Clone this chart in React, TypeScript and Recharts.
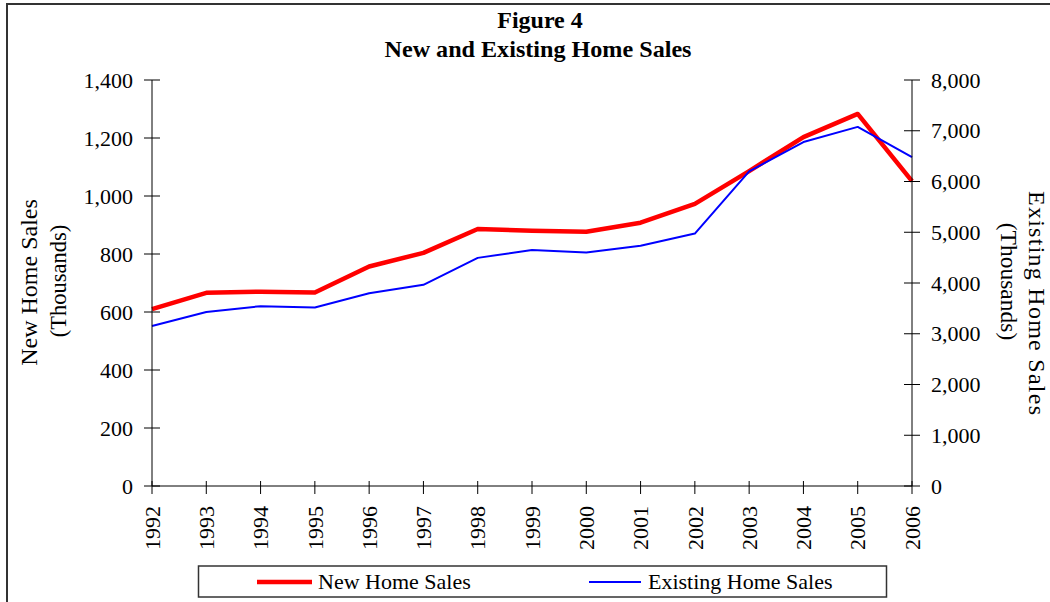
import { LineChart, Line, XAxis, YAxis } from "recharts"

const years = ["1992", "1993", "1994", "1995", "1996", "1997", "1998", "1999", "2000", "2001", "2002", "2003", "2004", "2005", "2006"]
const newHomeSales = [610, 666, 670, 667, 757, 804, 886, 880, 877, 908, 973, 1086, 1203, 1283, 1051]
const existingHomeSales = [3151, 3427, 3544, 3519, 3797, 3964, 4495, 4649, 4603, 4735, 4974, 6200, 6778, 7076, 6478]
const leftTicks = [0, 200, 400, 600, 800, 1000, 1200, 1400]
const rightTicks = [0, 1000, 2000, 3000, 4000, 5000, 6000, 7000, 8000]

const data = years.map((year, i) => ({
  year,
  newSales: newHomeSales[i],
  existingSales: existingHomeSales[i],
}))

const font = "'Liberation Serif', 'Times New Roman', serif"
const fmt = (v: number) => v.toLocaleString("en-US")

function LeftTick({ x, y, payload }: any) {
  return (
    <g>
      <line x1={x + 11} x2={x + 27} y1={y} y2={y} stroke="#000" />
      <text x={x} y={y} dy="0.35em" textAnchor="end" fontSize={22} style={{ fontFamily: font }} fill="#000">
        {fmt(payload.value)}
      </text>
    </g>
  )
}

function RightTick({ x, y, payload }: any) {
  return (
    <g>
      <line x1={x - 27} x2={x - 11} y1={y} y2={y} stroke="#000" />
      <text x={x} y={y} dy="0.35em" textAnchor="start" fontSize={22} style={{ fontFamily: font }} fill="#000">
        {fmt(payload.value)}
      </text>
    </g>
  )
}

function YearTick({ x, y, payload }: any) {
  return (
    <g>
      <line x1={x} x2={x} y1={y - 25} y2={y - 12} stroke="#000" />
      <text
        x={x}
        y={y}
        dy="0.35em"
        textAnchor="end"
        fontSize={22}
        style={{ fontFamily: font }}
        fill="#000"
        transform={`rotate(-90 ${x} ${y})`}
      >
        {payload.value}
      </text>
    </g>
  )
}

export default function App() {
  return (
    <div style={{ position: "absolute", left: 0, top: 0, width: 1050, height: 602, overflow: "hidden", background: "#fff" }}>
      <div
        style={{
          position: "absolute",
          left: 6,
          top: 3,
          width: 1100,
          height: 700,
          borderLeft: "2px solid #333",
          borderTop: "2px solid #333",
        }}
      />
      <LineChart width={1050} height={602} data={data} margin={{ top: 80, right: 38, bottom: 36, left: 52 }}>
        <XAxis
          dataKey="year"
          height={80}
          interval={0}
          tickLine={false}
          tickSize={8}
          tickMargin={12}
          axisLine={{ stroke: "#000" }}
          tick={<YearTick />}
        />
        <YAxis
          yAxisId="left"
          width={100}
          domain={[0, 1400]}
          ticks={leftTicks}
          interval={0}
          tickLine={false}
          tickSize={8}
          tickMargin={11}
          axisLine={{ stroke: "#000" }}
          tick={<LeftTick />}
        />
        <YAxis
          yAxisId="right"
          orientation="right"
          width={100}
          domain={[0, 8000]}
          ticks={rightTicks}
          interval={0}
          tickLine={false}
          tickSize={8}
          tickMargin={11}
          axisLine={{ stroke: "#000" }}
          tick={<RightTick />}
        />
        <Line
          yAxisId="left"
          type="linear"
          dataKey="newSales"
          stroke="#ff0000"
          strokeWidth={4.5}
          strokeLinejoin="round"
          dot={false}
          isAnimationActive={false}
        />
        <Line
          yAxisId="right"
          type="linear"
          dataKey="existingSales"
          stroke="#0000ff"
          strokeWidth={2}
          strokeLinejoin="round"
          dot={false}
          isAnimationActive={false}
        />
      </LineChart>
      <svg width={1050} height={602} style={{ position: "absolute", left: 0, top: 0, pointerEvents: "none", fontFamily: font }}>
        <g fill="#000">
          <text x={540} y={28} textAnchor="middle" fontSize={24} fontWeight="bold">
            Figure 4
          </text>
          <text x={538} y={57} textAnchor="middle" fontSize={24} fontWeight="bold" textLength={307} lengthAdjust="spacingAndGlyphs">
            New and Existing Home Sales
          </text>
          <text x={37} y={282.5} textAnchor="middle" fontSize={24} transform="rotate(-90 37 282.5)">
            New Home Sales
          </text>
          <text x={66} y={281} textAnchor="middle" fontSize={22.5} transform="rotate(-90 66 281)">
            (Thousands)
          </text>
          <text x={1029} y={303} textAnchor="middle" fontSize={24} transform="rotate(90 1029 303)" textLength={224}>
            Existing Home Sales
          </text>
          <text x={1000.5} y={281.5} textAnchor="middle" fontSize={23.5} transform="rotate(90 1000.5 281.5)">
            (Thousands)
          </text>
        </g>
        <g fontSize={22} fill="#000">
          <rect x={198.5} y={566} width={688} height={31} fill="none" stroke="#333" strokeWidth={1.5} />
          <line x1={257} x2={312} y1={582} y2={582} stroke="#ff0000" strokeWidth={4.5} />
          <text x={318} y={589}>New Home Sales</text>
          <line x1={589} x2={641} y1={582} y2={582} stroke="#0000ff" strokeWidth={2} />
          <text x={648} y={589}>Existing Home Sales</text>
        </g>
      </svg>
    </div>
  )
}
